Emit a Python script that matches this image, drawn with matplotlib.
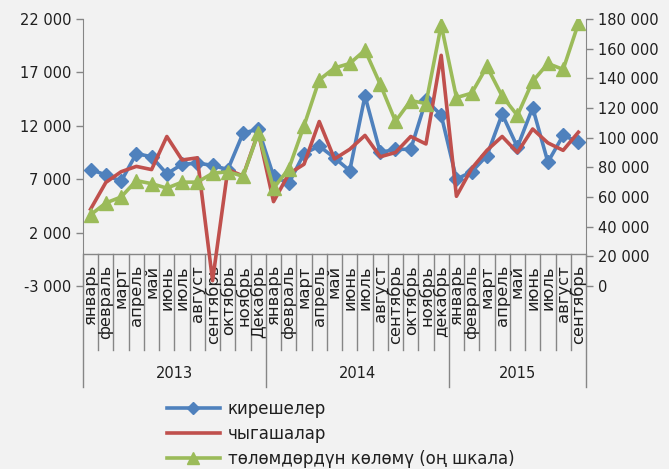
import matplotlib
matplotlib.use('Agg')
import matplotlib.pyplot as plt
import matplotlib.transforms as mtransforms
from matplotlib.lines import Line2D

months_2013 = ['январь', 'февраль', 'март', 'апрель', 'май', 'июнь', 'июль', 'август',
               'сентябрь', 'октябрь', 'ноябрь', 'Декабрь']
months_2014 = ['январь', 'февраль', 'март', 'апрель', 'май', 'июнь', 'июль', 'август',
               'сентябрь', 'октябрь', 'ноябрь', 'декабрь']
months_2015 = ['январь', 'февраль', 'март', 'апрель', 'май', 'июнь', 'июль', 'август',
               'сентябрь']
years = ['2013', '2014', '2015']
year_counts = [12, 12, 9]

incomes = [7900, 7400, 6800, 9400, 9100, 7500, 8400, 8500, 8300, 7900, 11300, 11700,
           7300, 6600, 9400, 10100, 9000, 7800, 14800, 9500, 9800, 9800, 14400, 13000,
           7000, 7700, 9200, 13100, 10000, 13700, 8600, 11100, 10500]
expenses = [4200, 6700, 7700, 8200, 7900, 11000, 8800, 9000, -2500, 7900, 7300, 11400,
            4900, 7500, 8400, 12400, 8900, 9800, 11100, 9100, 9500, 11000, 10300, 18600,
            5400, 8000, 9700, 11000, 9500, 11700, 10400, 9700, 11400]
payments = [48000, 56000, 60000, 71000, 69000, 66000, 70000, 70000, 76000, 77000, 74000, 103000,
            66000, 79000, 108000, 139000, 147000, 150000, 159000, 136000, 111000, 125000, 123000, 176000,
            127000, 130000, 148000, 128000, 115000, 138000, 150000, 146000, 177000]

series_names = ['кирешелер', 'чыгашалар', 'төлөмдөрдүн көлөмү (оң шкала)']

BG = '#F2F2F2'
AX = '#868686'
TXT = '#1F1F1F'
BLUE = '#4F81BD'
RED = '#C0504D'
GREEN = '#9BBB59'

plt.rcParams['font.family'] = ['DejaVu Sans']

W, H = 669, 469
fig = plt.figure(figsize=(W / 100, H / 100), dpi=100, facecolor=BG)
left, right, top, bottom = 83, 586, 19, 286
ax = fig.add_axes([left / W, 1 - bottom / H, (right - left) / W, (bottom - top) / H])
ax.set_facecolor(BG)

months = months_2013 + months_2014 + months_2015
x = list(range(len(months)))

l1, = ax.plot(x, incomes, color=BLUE, lw=2.6, marker='D', ms=7.5, zorder=3)
l2, = ax.plot(x, expenses, color=RED, lw=2.6, zorder=4)
ax.axhline(0, color=AX, lw=1, zorder=1)
ax.set_xlim(-0.5, len(months) - 0.5)
ax.set_ylim(-3000, 22000)
lt = list(range(-3000, 22001, 5000))
ax.set_yticks(lt)
ax.set_yticklabels([f'{v:,}'.replace(',', ' ') for v in lt])
ax.set_xticks([])

ax2 = ax.twinx()
ax2.set_facecolor('none')
l3, = ax2.plot(x, payments, color=GREEN, lw=2.6, marker='^', ms=10, zorder=5)
ax2.set_ylim(0, 180000)
rt = list(range(0, 180001, 20000))
ax2.set_yticks(rt)
ax2.set_yticklabels([f'{v:,}'.replace(',', ' ') for v in rt])

for a in (ax, ax2):
    for s in ('top', 'bottom'):
        a.spines[s].set_visible(False)
    a.tick_params(axis='y', colors=AX, labelcolor=TXT, labelsize=10.5, length=5, width=1, direction='out')
ax.spines['right'].set_visible(False)
ax.spines['left'].set_color(AX)
ax2.spines['left'].set_visible(False)
ax2.spines['right'].set_color(AX)

# category axis (multi-level)
trans = mtransforms.blended_transform_factory(ax.transData, ax.transAxes)
y0 = 3000 / 25000
def yfrac(py):
    return (bottom - py) / (bottom - top)

boundaries = [0]
for c in year_counts:
    boundaries.append(boundaries[-1] + c)
for b in range(len(months) + 1):
    yend = yfrac(387) if b in boundaries else yfrac(350)
    ax.add_line(Line2D([b - 0.5, b - 0.5], [y0, yend], transform=trans, color=AX, lw=1, clip_on=False, zorder=1))

for i, m in enumerate(months):
    ax.text(i, yfrac(265), m, transform=trans, rotation=90, ha='center', va='top',
            fontsize=11.8, color=TXT)

for k, yr in enumerate(years):
    cx = (boundaries[k] + boundaries[k + 1]) / 2 - 0.5
    ax.text(cx, yfrac(373), yr, transform=trans, ha='center', va='center', fontsize=10.5, color=TXT)

leg = fig.legend([l1, l2, l3], series_names, loc='upper left',
                 bbox_to_anchor=(160 / W, 1 - 393 / H), frameon=False, fontsize=12,
                 handlelength=3.2, handletextpad=0.45, labelspacing=0.42, borderaxespad=0,
                 markerscale=0.8)
for t in leg.get_texts():
    t.set_color(TXT)

fig.savefig('out.png', dpi=100, facecolor=BG)
